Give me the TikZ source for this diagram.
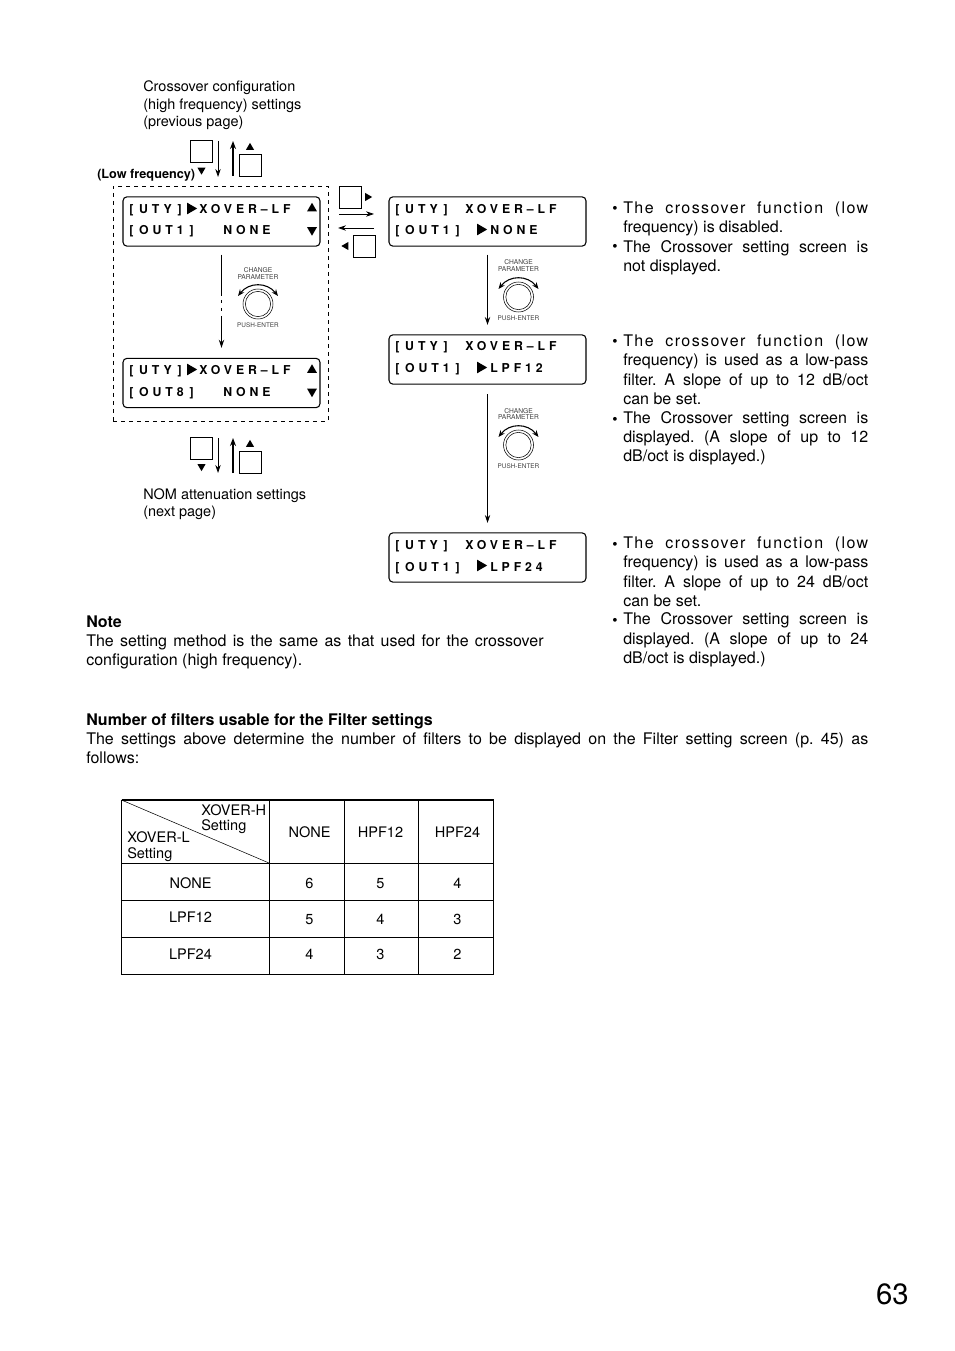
\documentclass[tikz,border=0pt]{standalone}
\usepackage{fontspec}
\setmainfont{TeX Gyre Heros}
\newfontfamily\lcdfont[LetterSpace=32]{TeX Gyre Heros}
\newfontfamily\widefont[LetterSpace=9]{TeX Gyre Heros}
\usepackage{tikz}
\usetikzlibrary{positioning,arrows.meta,shapes.geometric}

\begin{document}
\begin{tikzpicture}[
    x=0.75pt, y=-0.75pt,
    lcdbox/.style={rectangle, rounded corners=3pt, draw=black, line width=0.8pt, minimum width=147.75pt, minimum height=37pt, inner sep=0pt},
    lcdtext/.style={anchor=base west, inner sep=0pt, font=\fontsize{9.2}{11}\lcdfont\bfseries},
    keybox/.style={rectangle, draw=black, line width=0.6pt, minimum width=16.5pt, minimum height=16.5pt, inner sep=0pt},
    keytri/.style={regular polygon, regular polygon sides=3, fill=black, inner sep=0pt, minimum size=7pt},
    lcdtri/.style={regular polygon, regular polygon sides=3, fill=black, inner sep=0pt, minimum size=10pt},
    scrolltri/.style={regular polygon, regular polygon sides=3, fill=black, inner sep=0pt, minimum size=8.6pt},
    thinarrow/.style={-{Stealth[length=6pt, width=4pt]}, line width=0.6pt},
    thickarrow/.style={-{Stealth[length=6pt, width=4.5pt]}, line width=1.2pt},
    flowarrow/.style={-{Stealth[length=6pt, width=4pt]}, line width=1.4pt},
    bodytext/.style={anchor=north west, inner sep=0pt, align=justify, font=\fontsize{12}{14.4}\selectfont\frenchspacing},
    plaintext/.style={anchor=base west, inner sep=0pt, font=\fontsize{10.85}{13.2}\selectfont},
    celltext/.style={anchor=base, inner sep=0pt, font=\fontsize{10.9}{13}\selectfont},
    headtext/.style={anchor=base west, inner sep=0pt, align=left, font=\fontsize{10.9}{12}\selectfont},
    dottext/.style={anchor=base west, inner sep=0pt, font=\fontsize{11.3}{14.4}\selectfont},
    knob/.pic={
        \node[circle, draw=black, line width=0.4pt, minimum size=22.5pt, inner sep=0pt] (-outer) at (0,0) {};
        \node[circle, draw=black, line width=0.4pt, minimum size=19pt, inner sep=0pt] (-inner) at (0,0) {};
        \draw[{Stealth[length=5pt, width=4pt]}-{Stealth[length=5pt, width=4pt]}, line width=0.8pt] (-20,-8) .. controls (-9,-22) and (9,-22) .. (20,-8);
        \node[inner sep=0pt, text=black!75, font=\fontsize{4.8}{5.5}\selectfont] (-enter) at (0,21) {PUSH-ENTER};
    },
    knobtext/.style={anchor=base, inner sep=0pt, text=black!75, align=center, font=\fontsize{5}{5.2}\selectfont}
]
\useasboundingbox (0,0) rectangle (954,1351);

% upper labels
\node[plaintext] (prevA) at (143,92) {Crossover configuration};
\node[plaintext] (prevB) at (143,110) {(high frequency) settings};
\node[plaintext] (prevC) at (143,127) {(previous page)};
\node[anchor=base west, inner sep=0pt, font=\fontsize{9.5}{11}\selectfont\bfseries] (lowfreq) at (97,179) {(Low frequency)};

% keys above
\node[keybox] (keyDownA) at (201.5,151) {};
\node[keytri, rotate=180] (triDownA) at (201.5,170) {};
\coordinate (downAstart) at (218,141);
\coordinate (downAend) at (218,177);
\draw[thinarrow] (downAstart) -- (downAend);
\coordinate (upAstart) at (233,176);
\coordinate (upAend) at (233,141);
\draw[thickarrow] (upAstart) -- (upAend);
\node[keybox] (keyUpA) at (250,165) {};
\node[keytri] (triUpA) at (250,147.5) {};

% dashed frame
\node[rectangle, draw=black, dashed, line width=0.6pt, minimum width=161.25pt, minimum height=176.25pt, inner sep=0pt] (frame) at (220.5,303.5) {};

% left displays
\node[lcdbox] (lcdLeftA) at (221.5,221.5) {};
\node[lcdtext] (lcdLeftAa) at (129,214) {[\kern4.4pt UTY\kern4.4pt]};
\node[lcdtri, rotate=-90] (lcdLeftAb) at (190.5,208.5) {};
\node[lcdtext] (lcdLeftAc) at (199,214) {XOVER–LF};
\node[lcdtext] (lcdLeftAd) at (129,235) {[\kern4.4pt OUT1\kern4.4pt]};
\node[lcdtext] (lcdLeftAe) at (223,235) {NONE};
\node[scrolltri] (lcdLeftAf) at (312,208.5) {};
\node[scrolltri, rotate=180] (lcdLeftAg) at (312,230) {};

\node[lcdbox] (lcdLeftB) at (221.5,383) {};
\node[lcdtext] (lcdLeftBa) at (129,375) {[\kern4.4pt UTY\kern4.4pt]};
\node[lcdtri, rotate=-90] (lcdLeftBb) at (190.5,369.5) {};
\node[lcdtext] (lcdLeftBc) at (199,375) {XOVER–LF};
\node[lcdtext] (lcdLeftBd) at (129,397) {[\kern4.4pt OUT8\kern4.4pt]};
\node[lcdtext] (lcdLeftBe) at (223,397) {NONE};
\node[scrolltri] (lcdLeftBf) at (312,370) {};
\node[scrolltri, rotate=180] (lcdLeftBg) at (312,391.5) {};

% broken arrow between left displays
\coordinate (gapA) at (221.5,296.5);
\coordinate (gapB) at (221.5,300);
\coordinate (gapC) at (221.5,303);
\coordinate (gapD) at (221.5,308);
\coordinate (gapE) at (221.5,311);
\coordinate (gapF) at (221.5,316);
\draw[line width=1.4pt, shorten <=6pt] (lcdLeftA.south) -- (gapA);
\draw[line width=1.4pt] (gapB) -- (gapC);
\draw[line width=1.4pt] (gapD) -- (gapE);
\draw[flowarrow, shorten >=7.5pt] (gapF) -- (lcdLeftB.north);
\pic (knobLeft) at (258,304) {knob};
\node[knobtext] (knobLeftT) at (258,273) {CHANGE};
\node[knobtext] (knobLeftU) at (258,280) {PARAMETER};

% keys below
\node[keybox] (keyDownB) at (201.5,448) {};
\node[keytri, rotate=180] (triDownB) at (201.5,466.5) {};
\coordinate (downBstart) at (218,438);
\coordinate (downBend) at (218,473);
\draw[thinarrow] (downBstart) -- (downBend);
\coordinate (upBstart) at (233,473);
\coordinate (upBend) at (233,438);
\draw[thickarrow] (upBstart) -- (upBend);
\node[keybox] (keyUpB) at (250,462) {};
\node[keytri] (triUpB) at (250,444.5) {};

\node[plaintext] (nextA) at (143,499) {NOM attenuation settings};
\node[plaintext] (nextB) at (143,516) {(next page)};

% side keys
\node[keybox] (keyRight) at (350,197) {};
\node[keytri, rotate=-90] (triRight) at (367.5,197) {};
\coordinate (rightStart) at (339,214);
\coordinate (rightEnd) at (374,214);
\draw[thinarrow] (rightStart) -- (rightEnd);
\coordinate (leftStart) at (374,228);
\coordinate (leftEnd) at (338,228);
\draw[thinarrow] (leftStart) -- (leftEnd);
\node[keybox] (keyLeft) at (364,246) {};
\node[keytri, rotate=90] (triLeft) at (346,246) {};

% right displays
\node[lcdbox] (lcdNone) at (487.5,221.5) {};
\node[lcdtext] (lcdNonea) at (395,214) {[\kern4.4pt UTY\kern4.4pt]};
\node[lcdtext] (lcdNoneb) at (465,214) {XOVER–LF};
\node[lcdtext] (lcdNonec) at (395,235) {[\kern4.4pt OUT1\kern4.4pt]};
\node[lcdtri, rotate=-90] (lcdNoned) at (480.5,229.5) {};
\node[lcdtext] (lcdNonee) at (490,235) {NONE};

\node[lcdbox] (lcdTwelve) at (487.5,359.5) {};
\node[lcdtext] (lcdTwelvea) at (395,351) {[\kern4.4pt UTY\kern4.4pt]};
\node[lcdtext] (lcdTwelveb) at (465,351) {XOVER–LF};
\node[lcdtext] (lcdTwelvec) at (395,373) {[\kern4.4pt OUT1\kern4.4pt]};
\node[lcdtri, rotate=-90] (lcdTwelved) at (480.5,367.5) {};
\node[lcdtext] (lcdTwelvee) at (490,373) {LPF12};

\node[lcdbox] (lcdTwentyfour) at (487.5,557.5) {};
\node[lcdtext] (lcdTwentyfoura) at (395,549) {[\kern4.4pt UTY\kern4.4pt]};
\node[lcdtext] (lcdTwentyfourb) at (465,549) {XOVER–LF};
\node[lcdtext] (lcdTwentyfourc) at (395,571) {[\kern4.4pt OUT1\kern4.4pt]};
\node[lcdtri, rotate=-90] (lcdTwentyfourd) at (480.5,565.5) {};
\node[lcdtext] (lcdTwentyfoure) at (490,571) {LPF24};

\draw[flowarrow, shorten <=6pt, shorten >=7pt] (lcdNone.south) -- (lcdTwelve.north);
\draw[flowarrow, line width=0.7pt, shorten <=7pt, shorten >=7pt] (lcdTwelve.south) -- (lcdTwentyfour.north);
\pic (knobA) at (518.5,297) {knob};
\node[knobtext] (knobAT) at (518.5,265) {CHANGE};
\node[knobtext] (knobAU) at (518.5,271.5) {PARAMETER};
\pic (knobB) at (518.5,445) {knob};
\node[knobtext] (knobBT) at (518.5,413) {CHANGE};
\node[knobtext] (knobBU) at (518.5,419.5) {PARAMETER};

% right notes
\node[dottext] (dotA) at (612,214) {•};
\node[bodytext, text width=183.75pt] (noteA) at (623,201.7) {{\widefont The crossover function (low}\linebreak frequency) is disabled.};
\node[dottext] (dotB) at (612,252) {•};
\node[bodytext, text width=183.75pt] (noteB) at (623,240.2) {The Crossover setting screen is\linebreak not displayed.};
\node[dottext] (dotC) at (612,347) {•};
\node[bodytext, text width=183.75pt] (noteC) at (623,334.7) {{\widefont The crossover function (low}\linebreak frequency) is used as a low-pass\linebreak filter. A slope of up to 12 dB/oct\linebreak can be set.};
\node[dottext] (dotD) at (612,424) {•};
\node[bodytext, text width=183.75pt] (noteD) at (623,411.2) {The Crossover setting screen is\linebreak displayed. (A slope of up to 12\linebreak dB/oct is displayed.)};
\node[dottext] (dotE) at (612,549) {•};
\node[bodytext, text width=183.75pt] (noteE) at (623,536.7) {{\widefont The crossover function (low}\linebreak frequency) is used as a low-pass\linebreak filter. A slope of up to 24 dB/oct\linebreak can be set.};
\node[dottext] (dotF) at (612,625) {•};
\node[bodytext, text width=183.75pt] (noteF) at (623,612.7) {The Crossover setting screen is\linebreak displayed. (A slope of up to 24\linebreak dB/oct is displayed.)};

% lower paragraphs
\node[bodytext, text width=343pt] (noteHead) at (86,615.7) {\bfseries Note};
\node[bodytext, text width=343pt] (notePara) at (86,634.7) {The setting method is the same as that used for the crossover\linebreak configuration (high frequency).};
\node[bodytext, text width=586.5pt] (filterHead) at (86,713) {\bfseries Number of filters usable for the Filter settings};
\node[bodytext, text width=586.5pt] (filterPara) at (86,732.7) {The settings above determine the number of filters to be displayed on the Filter setting screen (p. 45) as\linebreak follows:};

% table
\coordinate (tl) at (121.5,800);
\coordinate (tr) at (493.5,800);
\coordinate (bl) at (121.5,974.5);
\coordinate (br) at (493.5,974.5);
\draw[line width=0.6pt] (tl) rectangle (br);
\draw[line width=1.2pt] (tl) -- (tr);
\draw[line width=0.5pt] (269,800) -- (269,974.5);
\draw[line width=0.5pt] (344,800) -- (344,974.5);
\draw[line width=0.5pt] (418,800) -- (418,974.5);
\draw[line width=0.5pt] (121.5,863) -- (493.5,863);
\draw[line width=0.5pt] (121.5,900) -- (493.5,900);
\draw[line width=0.5pt] (121.5,937) -- (493.5,937);
\draw[line width=0.4pt] (tl) -- (269,863);
\node[headtext] (headHa) at (201,815) {XOVER-H};
\node[headtext] (headHb) at (201,830) {Setting};
\node[headtext] (headLa) at (127,842) {XOVER-L};
\node[headtext] (headLb) at (127,858) {Setting};
\node[celltext] (colA) at (309.5,837) {NONE};
\node[celltext] (colB) at (380.5,837) {HPF12};
\node[celltext] (colC) at (457.5,837) {HPF24};
\node[celltext] (rowA) at (190.5,888) {NONE};
\node[celltext] (rowB) at (190.5,922) {LPF12};
\node[celltext] (rowC) at (190.5,959) {LPF24};
\node[celltext] (cellAa) at (309.5,888) {6};
\node[celltext] (cellAb) at (380.5,888) {5};
\node[celltext] (cellAc) at (457.5,888) {4};
\node[celltext] (cellBa) at (309.5,924) {5};
\node[celltext] (cellBb) at (380.5,924) {4};
\node[celltext] (cellBc) at (457.5,924) {3};
\node[celltext] (cellCa) at (309.5,959) {4};
\node[celltext] (cellCb) at (380.5,959) {3};
\node[celltext] (cellCc) at (457.5,959) {2};

% page number
\node[anchor=base east, inner sep=0pt, font=\fontsize{22}{28}\selectfont] (pageno) at (909,1304) {63};
\end{tikzpicture}
\end{document}
